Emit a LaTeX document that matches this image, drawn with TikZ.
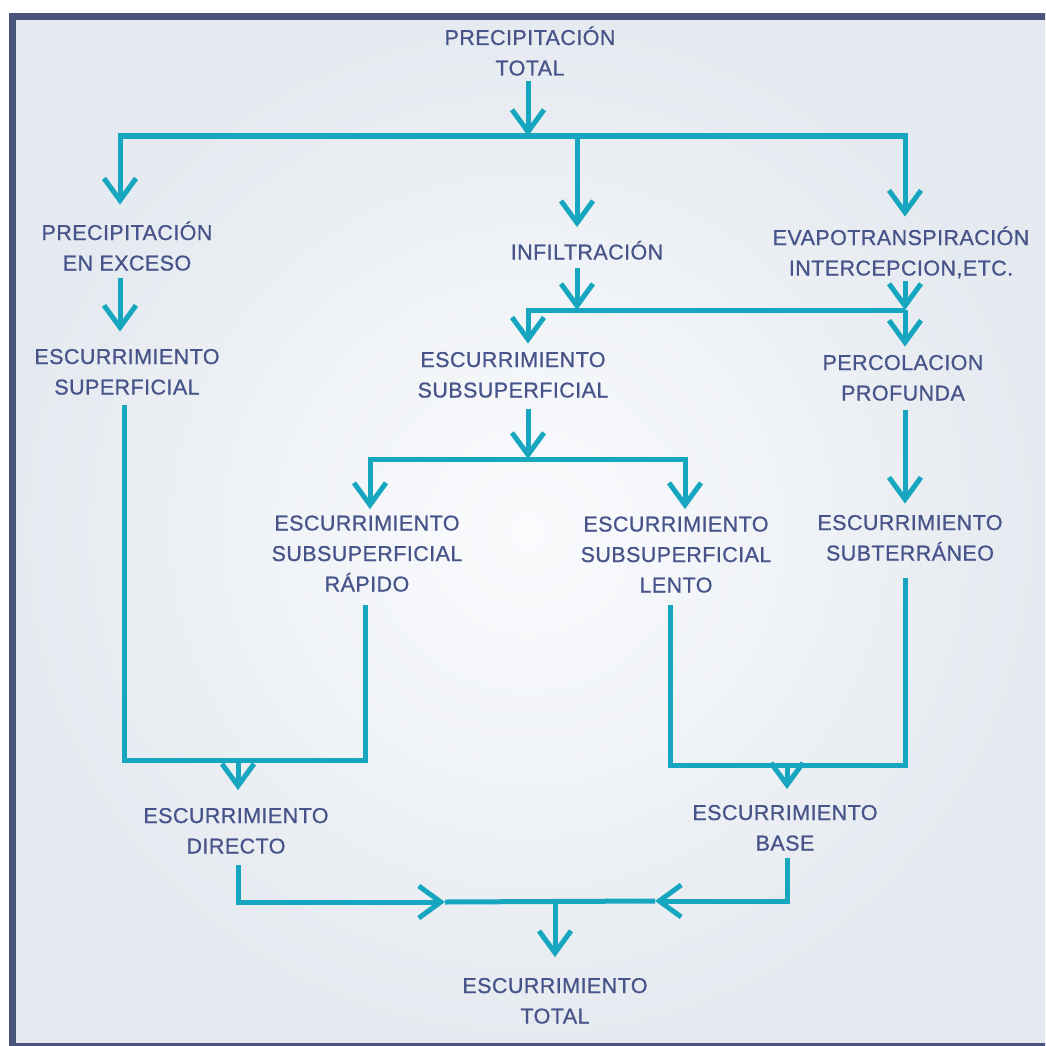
\documentclass[tikz,border=0pt]{standalone}
\usepackage{fontspec}
\setmainfont{Liberation Sans}[FakeBold=0.8, LetterSpace=2]
\usetikzlibrary{arrows.meta}
\definecolor{teal1}{RGB}{22,166,192}
\definecolor{txt}{RGB}{70,84,138}
\definecolor{framec}{RGB}{74,84,122}
\definecolor{bgout}{RGB}{229,234,240}
\definecolor{bgin}{RGB}{250,251,253}
\begin{document}
\begin{tikzpicture}[x=1pt,y=-1pt,
  lbl/.style={text=txt, font=\fontsize{21.5}{30.5}\selectfont, align=center,
    inner sep=0pt, outer sep=0pt, text height=15.4pt, anchor=base},
  lbltwo/.style={lbl, text height=45.9pt},
  lblthree/.style={lbl, text height=76.4pt},
  conn/.style={draw=teal1, line width=5pt},
  arr/.style={conn, -{Straight Barb[length=22pt,width=32pt]}}]
\useasboundingbox (0,0) rectangle (1045,1046);
\clip (0,0) rectangle (1045,1046);
% background and frame
\fill[white] (0,0) rectangle (1045,1046);
\shade[inner color=bgin, outer color=bgout] (12,17) rectangle (1045,1046);
\draw[framec, line width=7pt] (12,16.5) rectangle (1090,1046);

% labels (anchored at the baseline of the last line)
\node[lbltwo] (pt) at (530,75.5) {PRECIPITACIÓN\\TOTAL};
\node[lbltwo] (pe) at (127,270.5) {PRECIPITACIÓN\\EN EXCESO};
\node[lbl] (inf) at (587,259.5) {INFILTRACIÓN};
\node[lbltwo] (ev) at (901,275.5) {EVAPOTRANSPIRACIÓN\\INTERCEPCION,ETC.};
\node[lbltwo] (es) at (127,394.5) {ESCURRIMIENTO\\SUPERFICIAL};
\node[lbltwo] (ss) at (513,397.5) {ESCURRIMIENTO\\SUBSUPERFICIAL};
\node[lbltwo] (pp) at (903,400.5) {PERCOLACION\\PROFUNDA};
\node[lblthree] (sr) at (367,591.5) {ESCURRIMIENTO\\SUBSUPERFICIAL\\RÁPIDO};
\node[lblthree] (sl) at (676,592.5) {ESCURRIMIENTO\\SUBSUPERFICIAL\\LENTO};
\node[lbltwo] (st) at (910,560.5) {ESCURRIMIENTO\\SUBTERRÁNEO};
\node[lbltwo] (ed) at (236,853.5) {ESCURRIMIENTO\\DIRECTO};
\node[lbltwo] (eb) at (785,850.5) {ESCURRIMIENTO\\BASE};
\node[lbltwo] (et) at (555,1023.5) {ESCURRIMIENTO\\TOTAL};

% junction coordinates
\coordinate (jTop) at (528,136);
\coordinate (bl) at (120,136);
\coordinate (bm) at (577,136);
\coordinate (br) at (905,136);
\coordinate (m0) at (528,310);
\coordinate (m1) at (577,310);
\coordinate (m2) at (905,310);
\coordinate (j2) at (528,459);
\coordinate (j2l) at (370,459);
\coordinate (j2r) at (685,459);
\coordinate (dl) at (124,760);
\coordinate (dr) at (365,760);
\coordinate (dm) at (238,760);
\coordinate (bl2) at (670,765);
\coordinate (br2) at (905,765);
\coordinate (bm2) at (787,765);
\coordinate (fl) at (238,902);
\coordinate (ftl) at (445,902);
\coordinate (fr) at (787,901);
\coordinate (ftr) at (655,901);
\coordinate (fm) at (555,901);

% top
\draw[arr, shorten <=5pt] (pt.south -| jTop) -- (jTop);
\draw[arr, shorten >=20pt] (jTop) -- (bl) -- (bl |- pe.north);
\draw[arr, shorten >=13pt] (jTop) -- (br) -- (br |- ev.north);
\draw[arr, shorten >=17pt] (bm) -- (bm |- inf.north);
% second level
\draw[arr, shorten <=7pt, shorten >=17pt] (pe.south -| bl) -- (bl |- es.north);
\draw[arr, shorten <=8.5pt] (inf.south -| m1) -- (m1);
\draw[arr, shorten <=3pt] (ev.south -| m2) -- (m2);
\draw[arr, shorten >=8pt] (m2) -- (m0) -- (m0 |- ss.north);
\draw[arr, shorten >=8pt] (m2) -- (m2 |- pp.north);
% third level
\draw[arr, shorten <=11pt] (ss.south -| j2) -- (j2);
\draw[arr, shorten >=6pt] (j2r) -- (j2l) -- (j2l |- sr.north);
\draw[arr, shorten >=7pt] (j2l) -- (j2r) -- (j2r |- sl.north);
\draw[arr, shorten <=9.5pt, shorten >=11pt] (pp.south -| m2) -- (m2 |- st.north);
% direct runoff
\draw[conn, shorten <=10pt, shorten >=13pt] (es.south -| dl) -- (dl) -- (dr) -- (sr.south -| dr);
\draw[arr, shorten >=17.5pt] (dm) -- (dm |- ed.north);
% base runoff
\draw[conn, shorten <=12.5pt, shorten >=17.5pt] (sl.south -| bl2) -- (bl2) -- (br2) -- (st.south -| br2);
\draw[arr, shorten >=15.5pt] (bm2) -- (bm2 |- eb.north);
% total
\draw[arr, shorten <=11.5pt] (ed.south -| fl) -- (fl) -- (ftl);
\draw[arr, shorten <=7.5pt] (eb.south -| fr) -- (fr) -- (ftr);
\draw[conn] (ftl) -- (ftr);
\draw[arr, shorten >=20.5pt] (fm) -- (fm |- et.north);
\end{tikzpicture}
\end{document}
